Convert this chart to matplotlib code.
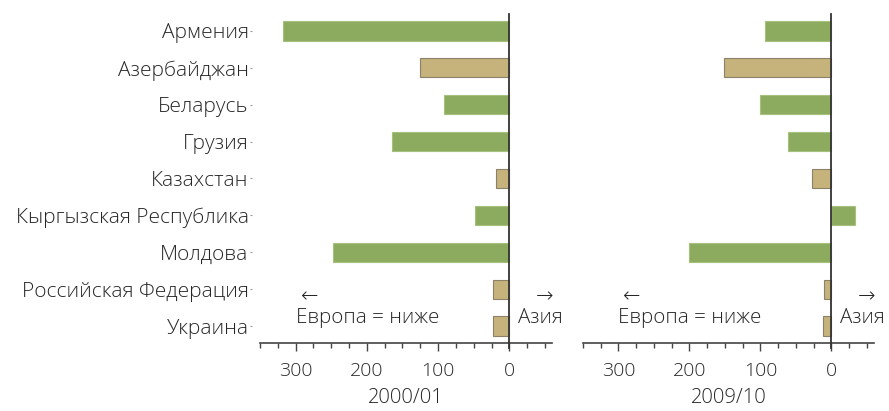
import matplotlib.pyplot as plt
from matplotlib.ticker import MultipleLocator
from matplotlib import font_manager

# ищем Open Sans Light (не condensed)
light_path = None
for f in font_manager.fontManager.ttflist:
    if f.fname.endswith("OpenSans-Light.ttf"):
        light_path = f.fname
if light_path:
    fp = font_manager.FontProperties(fname=light_path)
else:
    fp = font_manager.FontProperties(family="DejaVu Sans")

strany = ["Армения", "Азербайджан", "Беларусь", "Грузия", "Казахстан",
          "Кыргызская Республика", "Молдова", "Российская Федерация", "Украина"]
znach_2000 = [318, 125, 92, 165, 19, 48, 247, 23, 23]
znach_2009 = [94, 152, 100, 61, 28, -33, 200, 11, 12]
# True = желтые столбцы
gruppa = [False, True, False, False, True, False, False, True, True]
periody = ["2000/01", "2009/10"]

zel = "#8dab5f"
zhel = "#c5b37b"
kraj = "#8c8068"
tekst = "#262626"


def shrift(size):
    p = fp.copy()
    p.set_size(size)
    return p


fig = plt.figure(figsize=(8.89, 4.11), dpi=100)
ax1 = fig.add_axes([0.2925, 0.1655, 0.3285, 0.8005])
ax2 = fig.add_axes([0.6558, 0.1655, 0.3273, 0.8005])

for ax, vals, per in [(ax1, znach_2000, periody[0]), (ax2, znach_2009, periody[1])]:
    y = list(range(len(strany)))
    cols = [zhel if g else zel for g in gruppa]
    edges = [kraj if g else "#a6c07e" for g in gruppa]
    ax.barh(y, vals, height=0.52, color=cols, edgecolor=edges, linewidth=0.8, zorder=2)
    ax.set_xlim(350, -60)
    ax.set_ylim(8.46, -0.46)
    ax.axvline(0, color="#333333", lw=1.3, zorder=3, ymin=-0.015, ymax=1, clip_on=False)
    for s in ["top", "right", "left"]:
        ax.spines[s].set_visible(False)
    ax.spines["bottom"].set_color("#444444")
    ax.spines["bottom"].set_linewidth(1.2)
    ax.xaxis.set_minor_locator(MultipleLocator(25))
    ax.tick_params(axis="x", which="major", length=6, width=1, color="#444444", pad=7.5)
    ax.tick_params(axis="x", which="minor", length=3.5, width=1, color="#444444")
    ax.set_xticks([300, 200, 100, 0])
    ax.set_xticklabels(["300", "200", "100", "0"], fontproperties=shrift(14), color=tekst)
    ax.set_xlabel(per, fontproperties=shrift(14.5), color=tekst, labelpad=6)
    ax.text(293, 7.2, "←", fontsize=15, color=tekst, ha="left", va="center",
            family=["DejaVu Sans"], fontweight="light")
    ax.text(300, 7.78, "Европа = ниже", fontproperties=shrift(14.8), color=tekst,
            ha="left", va="center")
    ax.text(-62, 7.2, "→", fontsize=15, color=tekst, ha="right", va="center", clip_on=False,
            family=["DejaVu Sans"], fontweight="light")
    ax.text(-12, 7.78, "Азия", fontproperties=shrift(14.8), color=tekst, ha="left",
            va="center", clip_on=False)

# сначала сдвигаем ось (это сбрасывает тики), потом подписи
ax1.spines["left"].set_position(("outward", 6))
ax1.set_yticks(range(len(strany)))
ax1.set_yticklabels(strany, fontproperties=shrift(15), color=tekst)
ax1.tick_params(axis="y", length=1.8, width=0.8, color="#999999", pad=0.5)
ax2.set_yticks([])

fig.savefig("out.png", dpi=100)
